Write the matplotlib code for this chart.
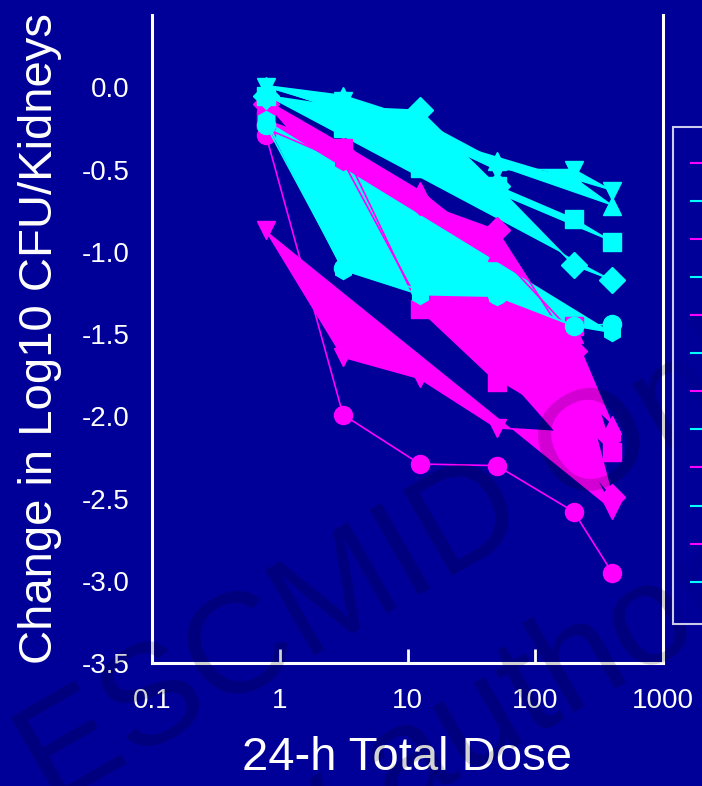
import numpy as np
import matplotlib
matplotlib.use('Agg')
import matplotlib.pyplot as plt
from matplotlib.lines import Line2D

plt.rcParams['font.family'] = ['Liberation Sans', 'DejaVu Sans']

# ---------------- data ----------------
dose = [0.78, 3.125, 12.5, 50, 200, 400]

mag_circle   = [-0.29, -1.99, -2.29, -2.30, -2.58, -2.95]
mag_invtri   = [-0.87, -1.64, -1.77, -2.07, -2.10, -2.57]
mag_square   = [-0.20, -0.37, -1.35, -1.79, -1.45, -2.22]
mag_diamond  = [-0.10, -0.40, -0.70, -0.87, -1.60, -2.49]
mag_triangle = [-0.08, -0.35, -0.63, -1.00, -1.50, -2.05]
mag_hexagon  = [-0.25, -0.45, -1.32, -1.77, -2.05, -2.12]

cy_triangle = [0.01, -0.05, -0.20, -0.45, -0.55, -0.72]
cy_invtri   = [0.00, -0.08, -0.28, -0.50, -0.50, -0.63]
cy_diamond  = [-0.05, -0.12, -0.14, -0.60, -1.08, -1.17]
cy_square   = [-0.05, -0.25, -0.49, -0.60, -0.80, -0.94]
cy_circle   = [-0.23, -1.10, -1.23, -1.26, -1.45, -1.44]
cy_hexagon  = [-0.20, -1.11, -1.26, -1.27, -1.45, -1.49]

legend_labels = ['Strain 1', 'Strain 1', 'Strain 2', 'Strain 2', 'Strain 3', 'Strain 3',
                 'Strain 4', 'Strain 4', 'Strain 5', 'Strain 5', 'Strain 6', 'Strain 6']

yticks = [0.0, -0.5, -1.0, -1.5, -2.0, -2.5, -3.0, -3.5]
xticks = [0.1, 1, 10, 100, 1000]
xticklabels = ['0.1', '1', '10', '100', '1000']

BG = '#000099'
MAG = '#ff00ff'
CYA = '#00ffff'

# (values, color, marker, filled)
series = [
	(mag_invtri,   MAG, 'v', True),
	(mag_hexagon,  MAG, 'h', True),
	(mag_square,   MAG, 's', True),
	(mag_diamond,  MAG, 'D', True),
	(mag_triangle, MAG, '^', True),
	(mag_circle,   MAG, 'o', False),
	(cy_hexagon,   CYA, 'h', True),
	(cy_circle,    CYA, 'o', False),
	(cy_square,    CYA, 's', True),
	(cy_diamond,   CYA, 'D', True),
	(cy_invtri,    CYA, 'v', True),
	(cy_triangle,  CYA, '^', True),
]

fig = plt.figure(figsize=(7.02, 7.86), dpi=100, facecolor=BG)
ax = fig.add_axes([152/702., 1-663/786., (663-152)/702., (663-15)/786.])
ax.set_facecolor(BG)

for vals, col, mk, filled in series:
	if filled:
		ax.fill(dose, vals, color=col, lw=0)
	ax.plot(dose, vals, color=col, lw=1.2, marker=mk, ms=13, mec=col, mfc=col)

ax.set_xscale('log')
ax.set_xlim(0.1, 1000)
ax.set_ylim(-3.5, 0.44)
ax.set_xticks(xticks)
ax.set_xticklabels(xticklabels)
ax.minorticks_off()
ax.set_yticks(yticks)
ax.set_yticklabels(['%.1f' % v for v in yticks])

for s in ['left', 'bottom', 'right']:
	ax.spines[s].set_color('white')
	ax.spines[s].set_linewidth(2.2)
ax.spines['top'].set_visible(False)
ax.tick_params(axis='x', direction='in', length=10, width=2, colors='white', labelsize=20, pad=18)
ax.tick_params(axis='y', length=0, colors='white', labelsize=20, pad=16)

ax.set_xlabel('24-h Total Dose', color='white', fontsize=34, labelpad=16)
ax.set_ylabel('Change in Log10 CFU/Kidneys', color='white', fontsize=34, labelpad=14)

##################### legend (cut by the figure edge) ########################
handles = []
for i in range(12):
	handles.append(Line2D([0], [0], color=MAG if i % 2 == 0 else CYA, lw=1.5))
leg = fig.legend(handles, legend_labels, loc='upper left', bbox_to_anchor=(673/702., 1-127/786.),
	borderaxespad=0, fontsize=14, labelspacing=0.05, handleheight=2.56, borderpad=0.9,
	handlelength=2.0, labelcolor='white', frameon=True, fancybox=False,
	facecolor=BG, edgecolor='white', title=' ', title_fontsize=4)
leg.get_frame().set_linewidth(1.5)

##################### watermark ########################
fig.text(0.071, -0.028, 'ESCMID Online Lecture Library', fontsize=103, color='black', alpha=0.18,
	rotation=30, rotation_mode='anchor', ha='left', va='baseline')
fig.text(0.147, -0.253, '\u00a9 by author', fontsize=103, color='black', alpha=0.18,
	rotation=30, rotation_mode='anchor', ha='left', va='baseline')

plt.savefig('out.png', dpi=100, facecolor=BG)
